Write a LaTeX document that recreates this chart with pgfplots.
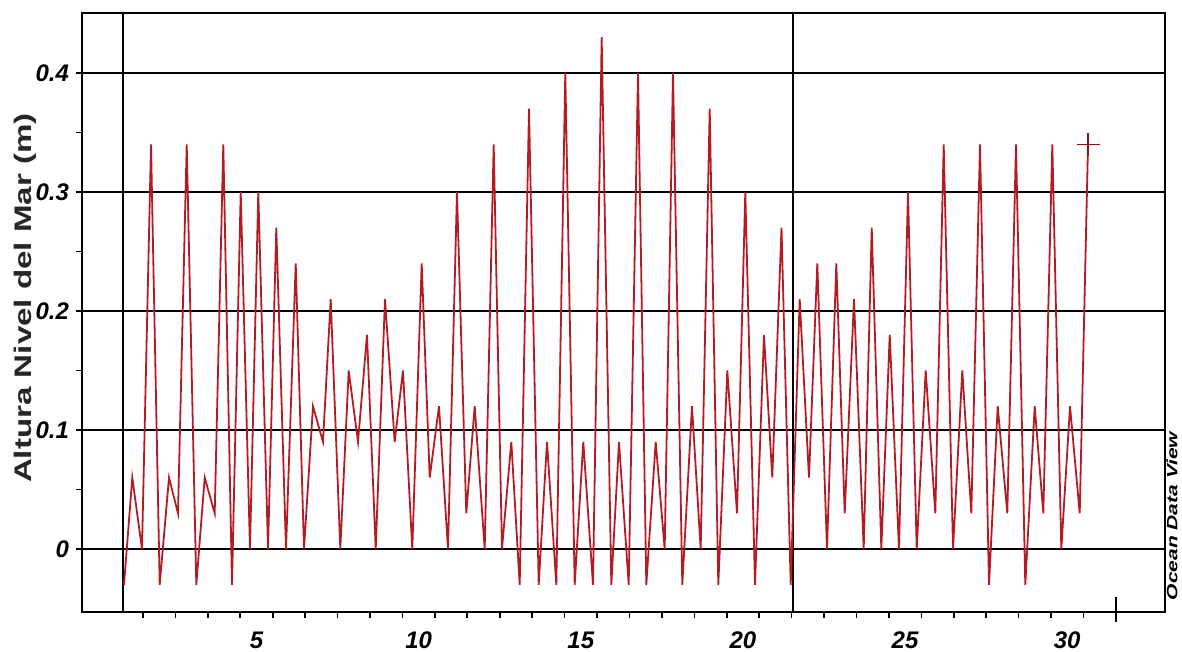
\documentclass[border=0pt]{standalone}
\usepackage{graphicx}
\usepackage{pgfplots}
\pgfplotsset{compat=1.18}
\usepackage{fontspec}
\setmainfont{Liberation Sans}
\definecolor{tide}{RGB}{180,28,36}
\begin{document}
\begin{tikzpicture}
\begin{axis}[
  scale only axis, width=541.5pt, height=299.5pt,
  xmin=-0.381, xmax=33.015, ymin=-0.0529, ymax=0.4504,
  axis line style={line width=1.3pt},
  tick pos=left,
  tick align=outside,
  major tick length=3pt, minor tick length=3pt,
  tick style={black, line width=0.8pt},
  xtick={5,10,15,20,25,30}, xticklabels={5,10,15,20,25,30},
  major x tick style={draw=none},
  minor xtick={1.5,2.5,...,30.5},
  extra x ticks={0.883,21.543}, extra x tick labels={},
  extra x tick style={grid=major, major grid style={black,line width=0.7pt}, tick style={draw=none}},
  ytick={0,0.1,0.2,0.3,0.4}, yticklabels={0,0.1,0.2,0.3,0.4},
  minor ytick={0.05,0.15,0.25,0.35},
  ymajorgrids, major grid style={black, line width=1pt},
  ticklabel style={font=\fontsize{12}{12}\selectfont\bfseries\itshape},
  xticklabel style={yshift=-3.5pt},
  clip=false,
]
\addplot[color=tide, line width=0.9pt] coordinates {
(0.914,-0.03) (1.170,0.06) (1.469,0.00) (1.747,0.34) (2.015,-0.03)
(2.302,0.06) (2.579,0.03) (2.848,0.34) (3.144,-0.03) (3.403,0.06)
(3.711,0.03) (3.976,0.34) (4.244,-0.03) (4.513,0.30) (4.799,0.00)
(5.055,0.30) (5.355,0.00) (5.610,0.27) (5.910,0.00) (6.209,0.24)
(6.465,0.00) (6.742,0.12) (7.050,0.09) (7.288,0.21) (7.584,0.00)
(7.843,0.15) (8.130,0.09) (8.407,0.18) (8.676,0.00) (8.962,0.21)
(9.261,0.09) (9.517,0.15) (9.804,0.00) (10.094,0.24) (10.341,0.06)
(10.627,0.12) (10.905,0.00) (11.182,0.30) (11.469,0.03) (11.728,0.12)
(12.037,0.00) (12.314,0.34) (12.570,0.00) (12.857,0.09) (13.116,-0.03)
(13.403,0.37) (13.702,-0.03) (13.958,0.09) (14.245,-0.03) (14.522,0.40)
(14.812,-0.03) (15.077,0.09) (15.376,-0.03) (15.644,0.43) (15.941,-0.03)
(16.178,0.09) (16.477,-0.03) (16.764,0.40) (17.020,-0.03) (17.310,0.09)
(17.587,0.00) (17.843,0.40) (18.130,-0.03) (18.429,0.12) (18.697,0.00)
(18.975,0.37) (19.240,-0.03) (19.518,0.15) (19.817,0.03) (20.073,0.30)
(20.372,-0.03) (20.649,0.18) (20.905,0.06) (21.189,0.27) (21.473,-0.03)
(21.750,0.21) (22.037,0.06) (22.293,0.24) (22.592,0.00) (22.879,0.24)
(23.138,0.03) (23.425,0.21) (23.724,0.00) (23.971,0.27) (24.267,0.00)
(24.526,0.18) (24.812,0.00) (25.090,0.30) (25.358,0.00) (25.636,0.15)
(25.932,0.03) (26.191,0.34) (26.478,0.00) (26.764,0.15) (27.042,0.03)
(27.310,0.34) (27.588,-0.03) (27.856,0.12) (28.152,0.03) (28.420,0.34)
(28.707,-0.03) (28.997,0.12) (29.262,0.03) (29.540,0.34) (29.817,0.00)
(30.086,0.12) (30.385,0.03) (30.641,0.34)
};
\addplot[only marks, mark=+, mark size=5.75pt, color=tide!75!black, mark options={line width=0.8pt}] coordinates {(30.641,0.34)};
\end{axis}
\draw[line width=0.8pt] (517pt,-5pt) -- (517pt,7.5pt);
\node[rotate=90, anchor=base, font=\fontsize{12}{12}\selectfont\bfseries, text=black!85] at (-25pt,157pt) {\scalebox{1.38}[1]{Altura Nivel del Mar (m)}};
\node[rotate=90, inner sep=0pt, font=\fontsize{7.5}{7.5}\selectfont\bfseries\itshape] at (545pt,48pt) {\scalebox{1.4}[1]{Ocean Data View}};
\pgfresetboundingbox
\path (-41pt,-20pt) rectangle (550pt,306pt);
\end{tikzpicture}
\end{document}
